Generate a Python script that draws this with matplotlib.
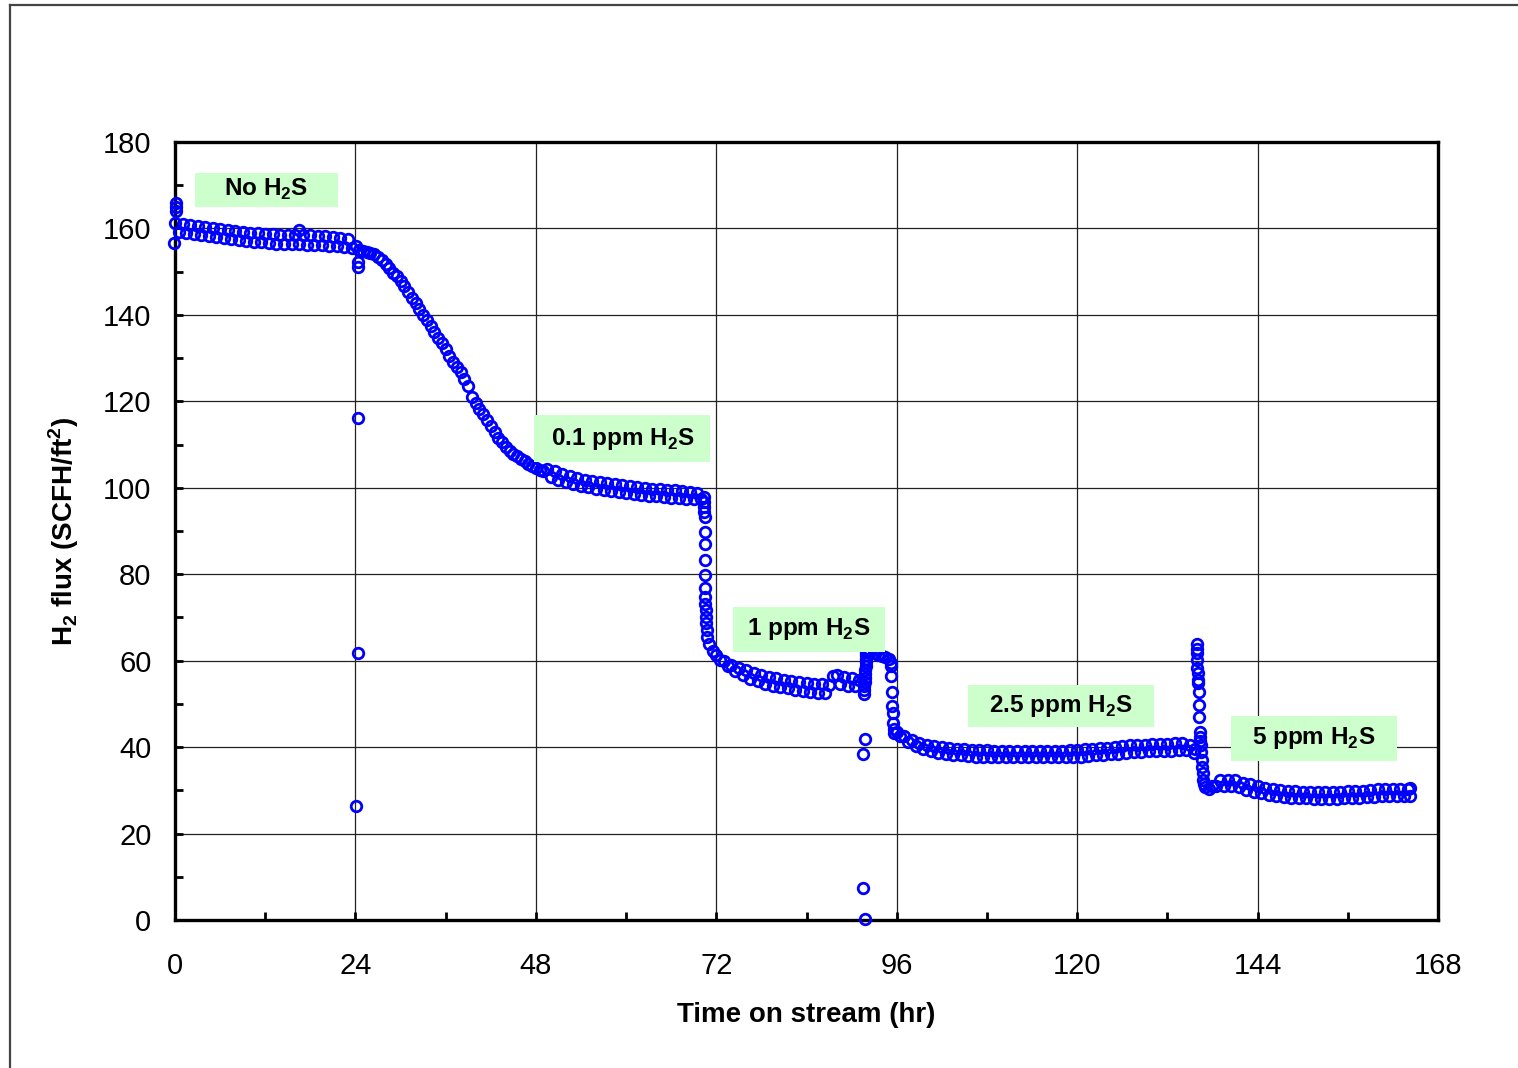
import numpy as np
import matplotlib
matplotlib.use('Agg')
import matplotlib.pyplot as plt
from matplotlib.patches import Rectangle
from matplotlib.lines import Line2D

plt.rcParams['font.family'] = ['Liberation Sans', 'DejaVu Sans']
plt.rcParams['mathtext.fontset'] = 'custom'
plt.rcParams['mathtext.rm'] = 'Liberation Sans'
plt.rcParams['mathtext.bf'] = 'Liberation Sans:bold'

# H2 flux readings (SCFH/ft2), logged every half hour, one list per stretch
step_hr = 0.5

no_h2s_start = 0.0
no_h2s_flux = [161.3, 159.1, 161.1, 158.9, 160.9, 158.7, 160.6, 158.5, 160.4, 158.2,
               160.1, 158.0, 159.8, 157.7, 159.6, 157.5, 159.4, 157.3, 159.2, 157.2,
               159.0, 156.9, 158.9, 156.8, 158.7, 156.6, 158.6, 156.5, 158.5, 156.4,
               158.4, 156.3, 158.4, 156.3, 158.4, 156.2, 158.4, 156.2, 158.3, 156.1,
               158.3, 156.0, 158.1, 155.9, 157.9, 155.7, 157.6, 155.4]

ppm01_start = 24.5
ppm01_flux = [155.0, 154.8, 154.6, 154.4, 154.0, 153.4, 152.7, 151.8, 150.8, 149.8,
              148.9, 147.9, 146.6, 145.3, 144.0, 142.7, 141.3, 140.0, 138.8, 137.5,
              136.1, 134.7, 133.4, 132.0, 130.6, 129.2, 128.0, 126.7, 125.2, 123.5,
              121.0, 119.6, 118.3, 117.0, 115.7, 114.3, 113.0, 111.6, 110.5, 109.4,
              108.6, 107.9, 107.3, 106.7, 106.1, 105.5, 105.0, 104.6, 104.2, 103.8,
              104.3, 102.5, 103.8, 101.9, 103.2, 101.4, 102.7, 100.9, 102.3, 100.5,
              101.9, 100.1, 101.6, 99.8, 101.3, 99.5, 101.1, 99.3, 100.8, 99.1,
              100.6, 98.8, 100.4, 98.6, 100.2, 98.4, 100.0, 98.2, 99.8, 98.1,
              99.7, 97.9, 99.5, 97.7, 99.4, 97.6, 99.2, 97.5, 99.1, 97.3,
              98.8, 97.4]

ppm1_start = 71.0
ppm1_flux = [63.8, 62.3, 61.2, 60.1, 60.0, 58.7, 59.1, 57.6, 58.4, 56.6,
             57.8, 55.8, 57.2, 55.2, 56.7, 54.7, 56.3, 54.2, 55.9, 53.9,
             55.6, 53.6, 55.3, 53.3, 55.1, 53.0, 54.9, 52.8, 54.7, 52.6,
             54.5, 52.5, 54.3, 56.5, 56.7, 54.5, 56.2, 54.2, 56.0, 54.2,
             55.6]

upset_start = 92.5
upset_flux = [62.0, 61.7, 61.4, 61.1, 60.8, 60.4]

ppm25_start = 96.0
ppm25_flux = [43.6, 42.6, 42.5, 41.2, 41.7, 40.3, 41.0, 39.6, 40.6, 39.1,
              40.3, 38.7, 40.0, 38.5, 39.8, 38.2, 39.6, 38.1, 39.5, 37.9,
              39.4, 37.8, 39.3, 37.8, 39.3, 37.7, 39.2, 37.7, 39.2, 37.7,
              39.2, 37.6, 39.2, 37.6, 39.1, 37.6, 39.1, 37.6, 39.1, 37.6,
              39.2, 37.6, 39.2, 37.7, 39.2, 37.7, 39.3, 37.7, 39.4, 37.8,
              39.5, 37.9, 39.6, 38.1, 39.8, 38.2, 39.9, 38.4, 40.1, 38.5,
              40.2, 38.7, 40.4, 38.8, 40.5, 38.9, 40.6, 39.0, 40.7, 39.1,
              40.8, 39.2, 40.8, 39.2, 40.9, 39.3, 40.9, 39.3, 40.6]

ppm5_start = 137.0
ppm5_flux = [30.7, 30.2, 31.0, 31.0, 32.3, 31.0, 32.4, 30.9, 32.3, 30.7,
             31.8, 30.1, 31.4, 29.7, 31.0, 29.3, 30.6, 29.0, 30.3, 28.7,
             30.1, 28.5, 29.9, 28.3, 29.8, 28.2, 29.7, 28.2, 29.7, 28.1,
             29.7, 28.1, 29.7, 28.1, 29.7, 28.1, 29.7, 28.2, 29.8, 28.2,
             29.8, 28.3, 29.9, 28.4, 30.0, 28.5, 30.2, 28.6, 30.3, 28.7,
             30.4, 28.7, 30.4, 28.7, 30.3]

# fast transients and stray readings (hr, flux)
transient_t = [0.1, 0.1, 0.1, -0.1, 16.5,
               24.1, 24.3, 24.3, 24.35, 24.35, 24.1,
               70.3, 70.35, 70.4, 70.4, 70.45, 70.45, 70.45, 70.5, 70.5, 70.5,
               70.55, 70.55, 70.6, 70.6, 70.65, 70.7, 70.75,
               91.6, 91.7, 91.7, 91.75, 91.8, 91.8, 91.8, 91.85, 91.85, 91.9,
               91.9, 91.95, 92.0, 91.8, 91.5, 91.55, 91.8,
               95.2, 95.25, 95.3, 95.35, 95.4, 95.45, 95.5, 95.6, 95.7,
               135.5, 135.7, 135.9, 135.9, 135.95, 136.0, 136.0, 136.05, 136.1, 136.1,
               136.15, 136.2, 136.25, 136.3, 136.35, 136.4, 136.45, 136.5, 136.55,
               136.6, 136.7, 136.8, 136.9,
               164.3, 164.3]
transient_flux = [165.8, 165.0, 164.0, 156.6, 159.6,
                  156.0, 152.3, 151.1, 116.1, 61.8, 26.4,
                  97.9, 96.8, 95.6, 94.5, 93.3, 89.8, 87.0, 83.4, 79.9, 76.7,
                  74.8, 73.2, 71.7, 70.1, 68.6, 67.1, 65.5,
                  52.4, 53.3, 54.2, 55.1, 56.0, 56.9, 57.8, 58.7, 59.6, 60.5,
                  61.4, 62.0, 62.3, 41.8, 38.4, 7.3, 0.2,
                  59.5, 58.8, 56.5, 52.8, 49.5, 47.8, 45.5, 44.3, 43.2,
                  38.6, 39.5, 63.9, 62.6, 61.7, 60.1, 58.2, 57.1, 55.5, 54.9,
                  52.8, 49.7, 47.0, 43.5, 42.4, 41.5, 40.5, 38.9, 37.0,
                  35.5, 33.9, 32.5, 31.4,
                  30.6, 28.8]

period_labels = ['No H$_\\mathbf{2}$S', '0.1 ppm H$_\\mathbf{2}$S', '1 ppm H$_\\mathbf{2}$S',
                 '2.5 ppm H$_\\mathbf{2}$S', '5 ppm H$_\\mathbf{2}$S']

# label box placement (t0, t1, flux0, flux1)
label_boxes = [(2.66, 21.7, 165.0, 172.9),
               (47.8, 71.2, 106.0, 116.8),
               (74.2, 94.4, 62.1, 72.5),
               (105.5, 130.2, 44.6, 54.4),
               (140.5, 162.5, 36.9, 47.2)]

segments = [(no_h2s_start, no_h2s_flux), (ppm01_start, ppm01_flux), (ppm1_start, ppm1_flux),
            (upset_start, upset_flux), (ppm25_start, ppm25_flux), (ppm5_start, ppm5_flux)]

t_all = list(transient_t)
f_all = list(transient_flux)
for start, vals in segments:
    t_all += list(start + step_hr * np.arange(len(vals)))
    f_all += list(vals)

fig = plt.figure(figsize=(15.18, 10.68), dpi=100)
fig.patch.set_facecolor('white')
ax = fig.add_axes([175 / 1518, 1 - 920 / 1068, (1438 - 175) / 1518, (920 - 142) / 1068])

ax.plot(t_all, f_all, 'o', mfc='none', mec='#0000FF', ms=7.6, mew=2.0,
        clip_on=False, zorder=3)

for text, (t0, t1, f0, f1) in zip(period_labels, label_boxes):
    ax.add_patch(Rectangle((t0, f0), t1 - t0, f1 - f0, facecolor='#CCFFCC',
                           edgecolor='none', zorder=4))
    ax.text((t0 + t1) / 2, (f0 + f1) / 2, text, ha='center', va='center',
            fontsize=17.5, fontweight='bold', zorder=5)

ax.set_xlim(0, 168)
ax.set_ylim(0, 180)
ax.set_xticks(np.arange(0, 169, 24))
ax.set_xticks(np.arange(12, 168, 24), minor=True)
ax.set_yticks(np.arange(0, 181, 20))
ax.set_yticks(np.arange(10, 180, 20), minor=True)
ax.grid(True, which='major', color='#222222', linewidth=0.9)
ax.set_axisbelow(True)
ax.tick_params(which='both', direction='in', length=6, width=2, labelsize=21)
ax.tick_params(axis='x', which='both', pad=23)
ax.tick_params(axis='y', which='both', pad=17)
for s in ax.spines.values():
    s.set_linewidth(2.4)
    s.set_zorder(2.5)

ax.set_xlabel('Time on stream (hr)', fontsize=20, fontweight='bold', labelpad=16)
ax.set_ylabel('H$_\\mathbf{2}$ flux (SCFH/ft$^\\mathbf{2}$)', fontsize=20,
              fontweight='bold', labelpad=16)

# outer frame
fig.add_artist(Line2D([10 / 1518, 1], [1 - 5 / 1068, 1 - 5 / 1068],
                      transform=fig.transFigure, color='#444444', lw=1.6))
fig.add_artist(Line2D([10 / 1518, 10 / 1518], [0, 1 - 5 / 1068],
                      transform=fig.transFigure, color='#444444', lw=1.6))

fig.savefig('out.png', dpi=100)
